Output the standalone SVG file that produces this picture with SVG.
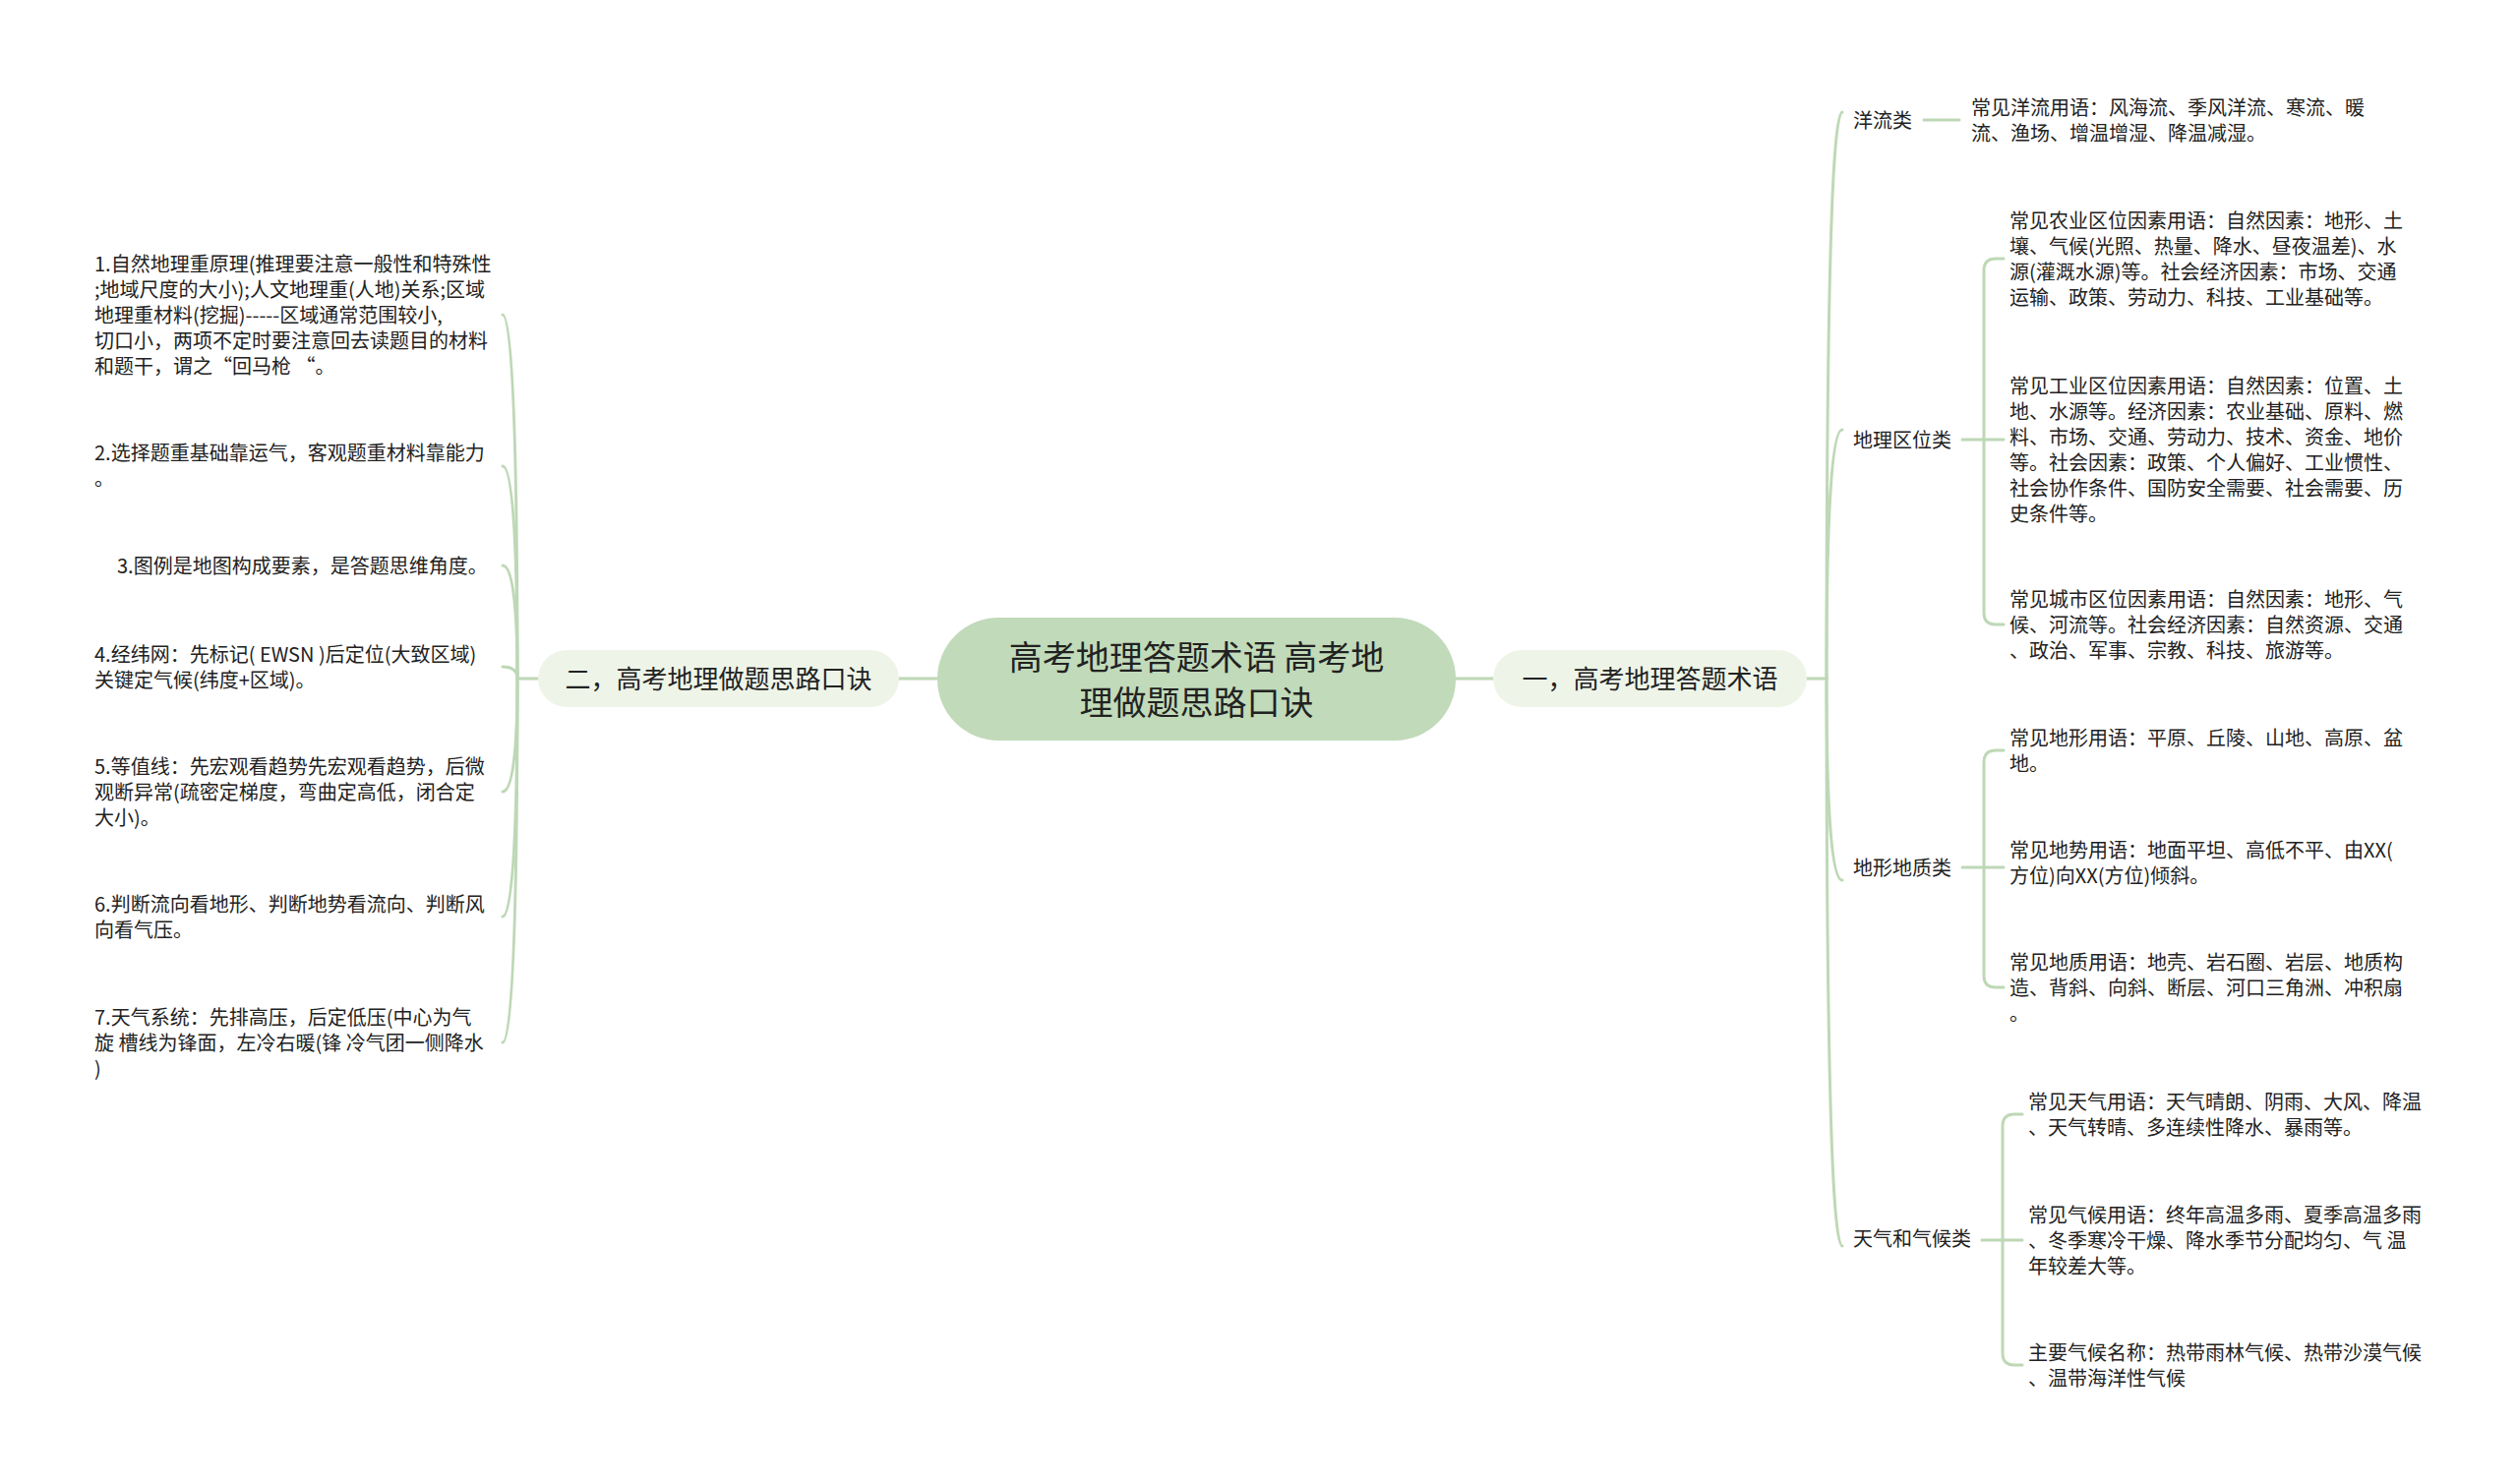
<svg xmlns="http://www.w3.org/2000/svg" width="2560" height="1509" viewBox="0 0 2560 1509">
<style>
.t{font-family:"Noto Sans CJK SC","Noto Sans",sans-serif;font-size:20px;fill:#222}
.b{font-family:"Noto Sans CJK SC","Noto Sans",sans-serif;font-size:26px;fill:#222}
.c{font-family:"Noto Sans CJK SC","Noto Sans",sans-serif;font-size:34px;fill:#222}
.ln{fill:none;stroke:#bed8b6;stroke-width:3;stroke-linecap:round}
</style>
<rect width="2560" height="1509" fill="#ffffff"/>
<g id="connectors">
<path class="ln" d="M914,690 H953"/>
<path class="ln" d="M1480,690 H1518"/>
<path class="ln" d="M526,690 H547"/>
<path class="ln" d="M1837,690 H1857"/>
<!-- left curves -->
<path class="ln" d="M526,690 C526,505 523,320 511,320"/>
<path class="ln" d="M526,690 C526,582 523,474 511,474"/>
<path class="ln" d="M526,690 C526,632 523,575 511,575"/>
<path class="ln" d="M526,690 C526,684 523,678 511,678"/>
<path class="ln" d="M526,690 C526,748 523,805 511,805"/>
<path class="ln" d="M526,690 C526,811 523,932 511,932"/>
<path class="ln" d="M526,690 C526,875 523,1060 511,1060"/>
<!-- right curves -->
<path class="ln" d="M1857,690 C1857,400 1860,114 1873,114"/>
<path class="ln" d="M1857,690 C1857,563 1860,437 1873,437"/>
<path class="ln" d="M1857,690 C1857,793 1860,895 1873,895"/>
<path class="ln" d="M1857,690 C1857,978 1860,1267 1873,1267"/>
<!-- label to subs -->
<path class="ln" d="M1956,122 H1992"/>
<path class="ln" d="M1995,447 H2037"/>
<path class="ln" d="M2037,263 H2029 Q2017,263 2017,275 V623 Q2017,635 2029,635 H2037"/>
<path class="ln" d="M1995,882 H2037"/>
<path class="ln" d="M2037,763 H2029 Q2017,763 2017,775 V992 Q2017,1004 2029,1004 H2037"/>
<path class="ln" d="M2015,1261 H2056"/>
<path class="ln" d="M2056,1133 H2048 Q2036,1133 2036,1145 V1376 Q2036,1388 2048,1388 H2056"/>
</g>
<g id="center">
<rect x="953" y="628" width="527" height="125" rx="62" fill="#c1dab9"/>
<text class="c" x="1216.5" y="681" text-anchor="middle">高考地理答题术语 高考地</text>
<text class="c" x="1216.5" y="727" text-anchor="middle">理做题思路口诀</text>
</g>
<g id="node-left">
<rect x="547" y="661" width="367" height="58" rx="29" fill="#eef5e8"/>
<text class="b" x="730.5" y="700" text-anchor="middle">二，高考地理做题思路口诀</text>
</g>
<g id="node-right">
<rect x="1518" y="661" width="319" height="58" rx="29" fill="#eef5e8"/>
<text class="b" x="1677.5" y="700" text-anchor="middle">一，高考地理答题术语</text>
</g>
<g id="left-1"><text class="t" x="96" y="276">1.自然地理重原理(推理要注意一般性和特殊性</text><text class="t" x="96" y="302">;地域尺度的大小);人文地理重(人地)关系;区域</text><text class="t" x="96" y="328">地理重材料(挖掘)-----区域通常范围较小,</text><text class="t" x="96" y="354">切口小，两项不定时要注意回去读题目的材料</text><text class="t" x="96" y="380">和题干，谓之“回马枪 “。</text></g>
<g id="left-2"><text class="t" x="96" y="468">2.选择题重基础靠运气，客观题重材料靠能力</text><text class="t" x="96" y="494">。</text></g>
<g id="left-3"><text class="t" x="119" y="583">3.图例是地图构成要素，是答题思维角度。</text></g>
<g id="left-4"><text class="t" x="96" y="673">4.经纬网：先标记( EWSN )后定位(大致区域)</text><text class="t" x="96" y="699">关键定气候(纬度+区域)。</text></g>
<g id="left-5"><text class="t" x="96" y="787">5.等值线：先宏观看趋势先宏观看趋势，后微</text><text class="t" x="96" y="813">观断异常(疏密定梯度，弯曲定高低，闭合定</text><text class="t" x="96" y="839">大小)。</text></g>
<g id="left-6"><text class="t" x="96" y="927">6.判断流向看地形、判断地势看流向、判断风</text><text class="t" x="96" y="953">向看气压。</text></g>
<g id="left-7"><text class="t" x="96" y="1042">7.天气系统：先排高压，后定低压(中心为气</text><text class="t" x="96" y="1068">旋 槽线为锋面，左冷右暖(锋 冷气团一侧降水</text><text class="t" x="96" y="1094">)</text></g>
<g id="cat-ocean"><text class="t" x="1884" y="130">洋流类</text></g>
<g id="cat-ocean-1"><text class="t" x="2004" y="117">常见洋流用语：风海流、季风洋流、寒流、暖</text><text class="t" x="2004" y="143">流、渔场、增温增湿、降温减湿。</text></g>
<g id="cat-loc"><text class="t" x="1884" y="455">地理区位类</text></g>
<g id="cat-loc-1"><text class="t" x="2043" y="232">常见农业区位因素用语：自然因素：地形、土</text><text class="t" x="2043" y="258">壤、气候(光照、热量、降水、昼夜温差)、水</text><text class="t" x="2043" y="284">源(灌溉水源)等。社会经济因素：市场、交通</text><text class="t" x="2043" y="310">运输、政策、劳动力、科技、工业基础等。</text></g>
<g id="cat-loc-2"><text class="t" x="2043" y="400">常见工业区位因素用语：自然因素：位置、土</text><text class="t" x="2043" y="426">地、水源等。经济因素：农业基础、原料、燃</text><text class="t" x="2043" y="452">料、市场、交通、劳动力、技术、资金、地价</text><text class="t" x="2043" y="478">等。社会因素：政策、个人偏好、工业惯性、</text><text class="t" x="2043" y="504">社会协作条件、国防安全需要、社会需要、历</text><text class="t" x="2043" y="530">史条件等。</text></g>
<g id="cat-loc-3"><text class="t" x="2043" y="617">常见城市区位因素用语：自然因素：地形、气</text><text class="t" x="2043" y="643">候、河流等。社会经济因素：自然资源、交通</text><text class="t" x="2043" y="669">、政治、军事、宗教、科技、旅游等。</text></g>
<g id="cat-terrain"><text class="t" x="1884" y="890">地形地质类</text></g>
<g id="cat-terrain-1"><text class="t" x="2043" y="758">常见地形用语：平原、丘陵、山地、高原、盆</text><text class="t" x="2043" y="784">地。</text></g>
<g id="cat-terrain-2"><text class="t" x="2043" y="872">常见地势用语：地面平坦、高低不平、由XX(</text><text class="t" x="2043" y="898">方位)向XX(方位)倾斜。</text></g>
<g id="cat-terrain-3"><text class="t" x="2043" y="986">常见地质用语：地壳、岩石圈、岩层、地质构</text><text class="t" x="2043" y="1012">造、背斜、向斜、断层、河口三角洲、冲积扇</text><text class="t" x="2043" y="1038">。</text></g>
<g id="cat-weather"><text class="t" x="1884" y="1267">天气和气候类</text></g>
<g id="cat-weather-1"><text class="t" x="2062" y="1128">常见天气用语：天气晴朗、阴雨、大风、降温</text><text class="t" x="2062" y="1154">、天气转晴、多连续性降水、暴雨等。</text></g>
<g id="cat-weather-2"><text class="t" x="2062" y="1243">常见气候用语：终年高温多雨、夏季高温多雨</text><text class="t" x="2062" y="1269">、冬季寒冷干燥、降水季节分配均匀、气 温</text><text class="t" x="2062" y="1295">年较差大等。</text></g>
<g id="cat-weather-3"><text class="t" x="2062" y="1383">主要气候名称：热带雨林气候、热带沙漠气候</text><text class="t" x="2062" y="1409">、温带海洋性气候</text></g>
</svg>
